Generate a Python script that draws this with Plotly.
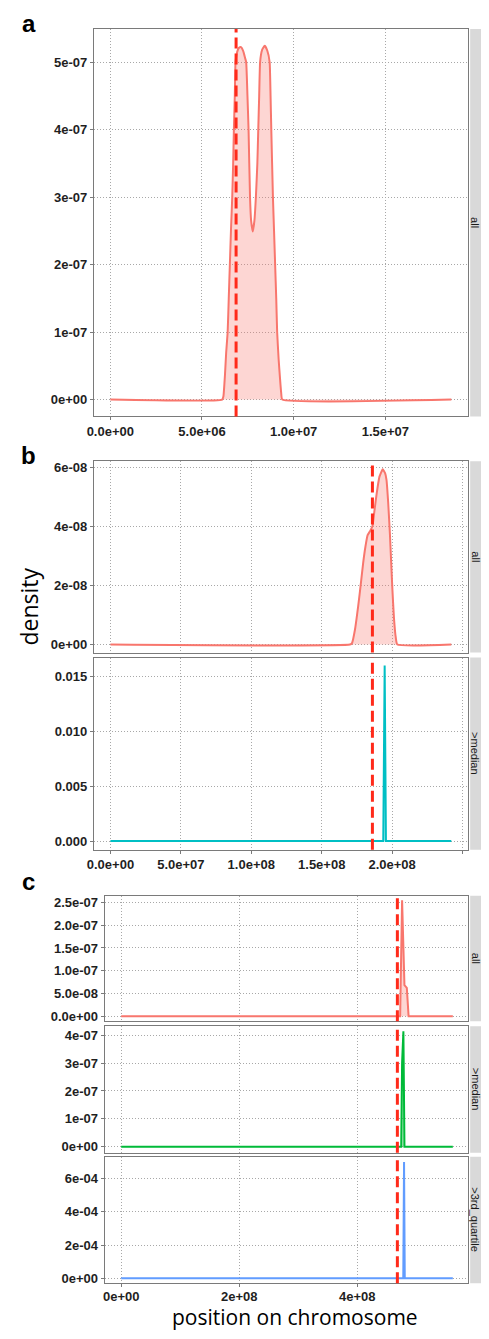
import plotly.graph_objects as go

# ---------------- data ----------------
MB = 1e6
E8 = 1e8

# panel a (x in 1e6 bp, y in 1e-7)
a_x = [0, 6.10, 6.17, 6.25, 6.32, 6.40, 6.46, 6.52, 6.58, 6.65, 6.70, 6.74, 6.79, 6.83, 6.92, 7.02,
       7.13, 7.25, 7.35, 7.41, 7.48, 7.54, 7.62, 7.68, 7.77, 7.86, 7.94, 8.02, 8.07, 8.12, 8.17,
       8.28, 8.42, 8.56, 8.69, 8.74, 8.78, 8.87, 8.93, 8.99, 9.05, 9.10, 9.18, 9.26, 9.32, 9.38, 18.6]
a_y = [0, 0, 0.05, 0.35, 0.7, 1.0, 1.5, 2.0, 2.5, 3.0, 3.5, 4.0, 4.5, 5.0, 5.15, 5.21,
       5.22, 5.16, 5.06, 5.0, 4.5, 4.0, 3.0, 2.65, 2.49, 2.65, 3.0, 3.5, 4.0, 4.5, 5.0,
       5.18, 5.24, 5.17, 5.0, 4.5, 4.0, 3.0, 2.5, 2.0, 1.5, 1.0, 0.6, 0.3, 0.1, 0, 0]
a_vline = 6.86e6

# panel b (x in 1e8 bp)
b1_x = [0, 1.70, 1.715, 1.736, 1.759, 1.778, 1.794, 1.81, 1.826, 1.845, 1.86, 1.875, 1.89, 1.91,
        1.933, 1.95, 1.96, 1.972, 1.984, 1.993, 2.002, 2.013, 2.025, 2.037, 2.42]
b1_y = [0, 0, 0.05, 0.5, 1.3, 2.07, 2.75, 3.3, 3.7, 3.85, 4.0, 4.55, 5.1, 5.68,
        5.93, 5.8, 5.57, 4.8, 3.77, 2.8, 1.85, 0.9, 0.27, 0, 0]          # in 1e-8
b2_x = [0, 1.937, 1.947, 1.956, 2.42]
b2_y = [0, 0, 0.016, 0, 0]
b_vline = 1.86e8

# panel c (x in 1e8 bp)
c1_x = [0, 4.727, 4.76, 4.80, 4.84, 4.87, 5.62]
c1_y = [0, 0, 2.55, 0.68, 0.62, 0, 0]        # in 1e-7
c2_x = [0, 4.745, 4.76, 4.782, 4.80, 5.62]
c2_y = [0, 0, 3.0, 4.14, 0, 0]               # in 1e-7
c3_x = [0, 4.78, 4.793, 4.805, 5.62]
c3_y = [0, 0, 7.0, 0, 0]                     # in 1e-4
c_vline = 4.68e8

# ticks
a_xt = [0, 5e6, 1e7, 1.5e7]; a_xl = ["0.0e+00", "5.0e+06", "1.0e+07", "1.5e+07"]
a_yt = [0, 1e-7, 2e-7, 3e-7, 4e-7, 5e-7]; a_yl = ["0e+00", "1e-07", "2e-07", "3e-07", "4e-07", "5e-07"]
b_xt = [0, 5e7, 1e8, 1.5e8, 2e8, 2.5e8]
b_xl = ["0.0e+00", "5.0e+07", "1.0e+08", "1.5e+08", "2.0e+08", "2.5e+08"]
b1_yt = [0, 2e-8, 4e-8, 6e-8]; b1_yl = ["0e+00", "2e-08", "4e-08", "6e-08"]
b2_yt = [0, 0.005, 0.010, 0.015]; b2_yl = ["0.000", "0.005", "0.010", "0.015"]
c_xt = [0, 2e8, 4e8]; c_xl = ["0e+00", "2e+08", "4e+08"]
c1_yt = [0, 5e-8, 1e-7, 1.5e-7, 2e-7, 2.5e-7]
c1_yl = ["0.0e+00", "5.0e-08", "1.0e-07", "1.5e-07", "2.0e-07", "2.5e-07"]
c2_yt = [0, 1e-7, 2e-7, 3e-7, 4e-7]; c2_yl = ["0e+00", "1e-07", "2e-07", "3e-07", "4e-07"]
c3_yt = [0, 2e-4, 4e-4, 6e-4]; c3_yl = ["0e+00", "2e-04", "4e-04", "6e-04"]

# ---------------- layout helpers ----------------
WIN_W, WIN_H = 489, 1339
OFF = 8                      # page body margin (both sides)
W, H = WIN_W - 2 * OFF, WIN_H - 2 * OFF
def fx(p): return (p - OFF) / W
def fy(p): return 1 - (p - OFF) / H

RED = "#F8766D"; RED_FILL = "rgba(248,118,109,0.3)"
CYAN = "#00BFC4"; CYAN_FILL = "rgba(0,191,196,0.3)"
GREEN = "#00BA38"; GREEN_FILL = "rgba(0,186,56,0.3)"
BLUE = "#619CFF"; BLUE_FILL = "rgba(97,156,255,0.3)"
VL = "#FF2A1A"

PR = 468        # panel right edge (px) - leaves room for the strips
SX0 = 470       # strip left edge
STX = 475.5     # strip text centre

panels = [
    dict(x0=88, x1=PR, y0=27, y1=416, xr=[-0.9e6, 19.52e6], yr=[-0.25e-7, 5.49e-7],
         xt=a_xt, xl=a_xl, yt=a_yt, yl=a_yl, showx=True, strip="all", vline=a_vline, smooth=True),
    dict(x0=88, x1=PR, y0=461, y1=653, xr=[-1.18e7, 2.54e8], yr=[-0.27e-8, 6.2e-8],
         xt=b_xt, xl=b_xl, yt=b1_yt, yl=b1_yl, showx=False, strip="all", vline=b_vline, smooth=True),
    dict(x0=88, x1=PR, y0=658, y1=851, xr=[-1.18e7, 2.54e8], yr=[-0.0008, 0.01673],
         xt=b_xt, xl=b_xl, yt=b2_yt, yl=b2_yl, showx=True, strip=">median", vline=b_vline, smooth=False),
    dict(x0=99, x1=PR, y0=897, y1=1023, xr=[-0.28e8, 5.88e8], yr=[-1.1e-8, 2.65e-7],
         xt=c_xt, xl=c_xl, yt=c1_yt, yl=c1_yl, showx=False, strip="all", vline=c_vline, smooth=False),
    dict(x0=99, x1=PR, y0=1028, y1=1155, xr=[-0.28e8, 5.88e8], yr=[-0.21e-7, 4.32e-7],
         xt=c_xt, xl=c_xl, yt=c2_yt, yl=c2_yl, showx=False, strip=">median", vline=c_vline, smooth=False),
    dict(x0=99, x1=PR, y0=1159, y1=1286, xr=[-0.28e8, 5.88e8], yr=[-0.3e-4, 7.33e-4],
         xt=c_xt, xl=c_xl, yt=c3_yt, yl=c3_yl, showx=True, strip=">3rd_quartile", vline=c_vline, smooth=False),
]

series = [
    ([v * MB for v in a_x], [v * 1e-7 for v in a_y], RED, RED_FILL),
    ([v * E8 for v in b1_x], [v * 1e-8 for v in b1_y], RED, RED_FILL),
    ([v * E8 for v in b2_x], b2_y, CYAN, CYAN_FILL),
    ([v * E8 for v in c1_x], [v * 1e-7 for v in c1_y], RED, RED_FILL),
    ([v * E8 for v in c2_x], [v * 1e-7 for v in c2_y], GREEN, GREEN_FILL),
    ([v * E8 for v in c3_x], [v * 1e-4 for v in c3_y], BLUE, BLUE_FILL),
]

fig = go.Figure()
tickfont = dict(family="Liberation Sans, Arial, sans-serif", size=13, color="#1f1f1f", weight="bold")
shapes = []
annotations = []

for i, (p, (sx, sy, col, fcol)) in enumerate(zip(panels, series), start=1):
    xa = "x" if i == 1 else f"x{i}"
    ya = "y" if i == 1 else f"y{i}"
    line = dict(color=col, width=2)
    if p["smooth"]:
        line.update(shape="spline", smoothing=0.4)
    fig.add_trace(go.Scatter(x=sx, y=sy, mode="lines", line=line,
                             fill="tozeroy", fillcolor=fcol, xaxis=xa, yaxis=ya,
                             showlegend=False, hoverinfo="skip"))
    xkey = "xaxis" if i == 1 else f"xaxis{i}"
    ykey = "yaxis" if i == 1 else f"yaxis{i}"
    common = dict(showline=True, mirror=True, linecolor="#7a7a7a", linewidth=1,
                  showgrid=True, gridcolor="#a8a8a8", griddash="1px,2px", gridwidth=1,
                  zeroline=False, ticks="outside", ticklen=3, tickcolor="#7a7a7a",
                  tickfont=tickfont, tickmode="array")
    xcfg = dict(common, domain=[fx(p["x0"]), fx(p["x1"])], range=p["xr"], anchor=ya,
                tickvals=p["xt"], ticktext=p["xl"] if p["showx"] else [""] * len(p["xt"]),
                ticklen=3 if p["showx"] else 0)
    if i == 6:
        xcfg["ticklabelstandoff"] = -2
    fig.update_layout({
        xkey: xcfg,
        ykey: dict(common, domain=[fy(p["y1"]), fy(p["y0"])], range=p["yr"], anchor=xa,
                   tickvals=p["yt"], ticktext=p["yl"]),
    })
    shapes.append(dict(type="line", xref=xa, yref=f"{ya} domain", x0=p["vline"], x1=p["vline"],
                       y0=0, y1=1, line=dict(color=VL, width=3, dash="11px,5px"), layer="above"))
    shapes.append(dict(type="rect", xref="paper", yref="paper", x0=fx(SX0), x1=fx(500),
                       y0=fy(p["y1"]), y1=fy(p["y0"]), fillcolor="#d9d9d9", line=dict(width=0),
                       layer="below"))
    annotations.append(dict(xref="paper", yref="paper", x=fx(STX), y=fy((p["y0"] + p["y1"]) / 2),
                            text=p["strip"], textangle=90, showarrow=False,
                            font=dict(family="Liberation Sans, Arial, sans-serif", size=11,
                                      color="#1a1a1a"),
                            xanchor="center", yanchor="middle"))

for letter, yp in [("a", 22), ("b", 455), ("c", 883)]:
    annotations.append(dict(xref="paper", yref="paper", x=fx(22), y=fy(yp), text=letter,
                            showarrow=False, xanchor="center", yanchor="middle",
                            font=dict(family="Liberation Sans, Arial, sans-serif", size=24,
                                      color="black", weight="bold")))

annotations.append(dict(xref="paper", yref="paper", x=fx(22), y=fy(607), text="density",
                        textangle=-90, showarrow=False, xanchor="center", yanchor="middle",
                        font=dict(family="Open Sans, sans-serif", size=23, color="black")))
annotations.append(dict(xref="paper", yref="paper", x=fx(292), y=0,
                        text="position on chromosome", showarrow=False,
                        xanchor="center", yanchor="bottom", yshift=-5,
                        font=dict(family="Open Sans, sans-serif", size=21, color="black")))

fig.update_layout(width=W, height=H, autosize=False, margin=dict(l=0, r=0, t=0, b=0),
                  paper_bgcolor="white", plot_bgcolor="white",
                  shapes=shapes, annotations=annotations)

fig.write_html("out.html", config={"displayModeBar": False})
